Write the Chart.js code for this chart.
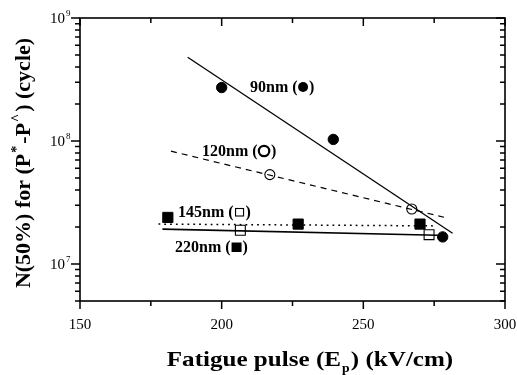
<!DOCTYPE html>
<html>
<head>
<meta charset="utf-8">
<script src="https://cdn.jsdelivr.net/npm/chart.js@4.4.1/dist/chart.umd.min.js"></script>
<style>
html,body{margin:0;padding:0;background:#fff;}
canvas{display:block;}
</style>
</head>
<body>
<canvas id="c" width="517" height="375"></canvas>
<script>
// ---- data ----
const xTickLabels = [150, 200, 250, 300];
const xMinorTicks = [175, 225, 275];
const yTickLabels = [1e7, 1e8, 1e9];

const x90 = [200, 239.4, 278];
const y90 = [2.72e8, 1.03e8, 1.66e7];
const fitX90 = [188, 281.5];
const fitY90 = [4.8e8, 1.78e7];

const x120 = [217, 267.1];
const y120 = [5.33e7, 2.80e7];
const fitX120 = [182.1, 279.7];
const fitY120 = [8.26e7, 2.36e7];

const x145 = [206.6, 273.2];
const y145 = [1.88e7, 1.73e7];
const fitX145 = [177.7, 275.6];
const fitY145 = [2.11e7, 2.04e7];

const x220 = [181.0, 227.0, 270.0];
const y220 = [2.39e7, 2.11e7, 2.11e7];
const fitX220 = [179.1, 276.2];
const fitY220 = [1.92e7, 1.71e7];

const seriesLabels = ['90nm', '120nm', '145nm', '220nm'];

const pts = (xs, ys) => xs.map((v, i) => ({x: v, y: ys[i]}));
const SERIF = '"Liberation Serif", "DejaVu Serif", serif';

const lineDs = (xs, ys, dash, w) => ({
  data: pts(xs, ys), showLine: true, pointRadius: 0, borderColor: '#000',
  borderWidth: w, borderDash: dash, fill: false, order: 2
});

const datasets = [
  lineDs(fitX90, fitY90, [], 1.3),
  lineDs(fitX120, fitY120, [6, 5], 1.2),
  lineDs(fitX145, fitY145, [1.8, 4], 1.5),
  lineDs(fitX220, fitY220, [], 1.6),
  {data: pts(x90, y90), pointStyle: 'circle', pointRadius: 5.2, backgroundColor: '#000', borderColor: '#000', borderWidth: 1, showLine: false, order: 1},
  {data: pts(x120, y120), pointStyle: 'circle', pointRadius: 5, backgroundColor: 'rgba(0,0,0,0)', borderColor: '#000', borderWidth: 1.1, showLine: false, order: 1},
  {data: pts(x145, y145), pointStyle: 'rect', pointRadius: 7, backgroundColor: 'rgba(0,0,0,0)', borderColor: '#000', borderWidth: 1.1, showLine: false, order: 1},
  {data: pts(x220, y220), pointStyle: 'rect', pointRadius: 7.2, backgroundColor: '#000', borderColor: '#000', borderWidth: 1, showLine: false, order: 1}
];

function drawSeriesLabel(ctx, x, y, name, sym) {
  ctx.font = 'bold 16px ' + SERIF;
  ctx.fillStyle = '#000';
  ctx.textAlign = 'left';
  ctx.textBaseline = 'alphabetic';
  const t = name + ' (';
  ctx.fillText(t, x, y);
  let cx = x + ctx.measureText(t).width;
  const cy = y - 5;
  ctx.save();
  ctx.strokeStyle = '#000';
  if (sym === 'fc') { ctx.beginPath(); ctx.arc(cx + 5.5, cy, 5, 0, 2 * Math.PI); ctx.fill(); cx += 11.5; }
  if (sym === 'oc') { ctx.lineWidth = 2.2; ctx.beginPath(); ctx.arc(cx + 6.5, cy, 5.2, 0, 2 * Math.PI); ctx.stroke(); cx += 13.5; }
  if (sym === 'os') { ctx.lineWidth = 1.1; ctx.strokeRect(cx + 2, cy - 3.5, 8, 7.5); cx += 12; }
  if (sym === 'fs') { ctx.fillRect(cx + 1, cy - 4.5, 10, 9.5); cx += 12; }
  ctx.restore();
  ctx.fillText(')', cx, y);
}

const framePlugin = {
  id: 'frame',
  afterDraw(chart) {
    const ctx = chart.ctx;
    const a = chart.chartArea;
    const xs = chart.scales.x, ys = chart.scales.y;
    ctx.save();
    ctx.strokeStyle = '#000';
    ctx.lineWidth = 1.6;
    ctx.strokeRect(a.left, a.top, a.right - a.left, a.bottom - a.top);
    ctx.lineWidth = 1.5;
    ctx.beginPath();
    // x ticks: outward at bottom, inward at top
    xTickLabels.forEach(v => {
      const p = xs.getPixelForValue(v);
      ctx.moveTo(p, a.bottom); ctx.lineTo(p, a.bottom + 8);
      ctx.moveTo(p, a.top); ctx.lineTo(p, a.top + 8);
    });
    xMinorTicks.forEach(v => {
      const p = xs.getPixelForValue(v);
      ctx.moveTo(p, a.bottom); ctx.lineTo(p, a.bottom + 5);
      ctx.moveTo(p, a.top); ctx.lineTo(p, a.top + 5);
    });
    // y ticks: outward at left, inward at right
    for (let e = 6; e <= 9; e++) {
      for (let k = 1; k <= 9; k++) {
        const v = k * Math.pow(10, e);
        if (v < ys.min * 0.999 || v > ys.max * 1.001) continue;
        const p = ys.getPixelForValue(v);
        const len = k === 1 ? 9 : 5;
        ctx.moveTo(a.left, p); ctx.lineTo(a.left - len, p);
        ctx.moveTo(a.right, p); ctx.lineTo(a.right - len, p);
      }
    }
    ctx.stroke();

    // tick labels
    ctx.fillStyle = '#000';
    ctx.font = '15px ' + SERIF;
    ctx.textAlign = 'center';
    ctx.textBaseline = 'alphabetic';
    xTickLabels.forEach(v => {
      ctx.fillText(String(v), xs.getPixelForValue(v), a.bottom + 28);
    });
    yTickLabels.forEach(v => {
      const p = ys.getPixelForValue(v);
      const ex = String(Math.round(Math.log10(v)));
      ctx.font = '15px ' + SERIF;
      ctx.textAlign = 'right';
      ctx.fillText('10', a.left - 15, p + 5);
      ctx.font = '9px ' + SERIF;
      ctx.textAlign = 'left';
      ctx.fillText(ex, a.left - 14, p - 2);
    });

    // x title with subscript (slightly stretched horizontally like the scan)
    const parts = [['Fatigue pulse (E', 0], ['p', 1], [') (kV/cm)', 0]];
    let total = 0;
    const widths = parts.map(([t, s]) => {
      ctx.font = (s ? 'bold 12px ' : 'bold 22px ') + SERIF;
      const w = ctx.measureText(t).width + (s ? 2 : 0);
      total += w; return w;
    });
    const sx = 1.14;
    ctx.save();
    ctx.translate(310, 366);
    ctx.scale(sx, 1);
    let xx = -total / 2;
    ctx.textAlign = 'left';
    parts.forEach(([t, s], i) => {
      ctx.font = (s ? 'bold 12px ' : 'bold 22px ') + SERIF;
      ctx.fillText(t, xx + (s ? 1 : 0), s ? 6 : 0);
      xx += widths[i];
    });
    ctx.restore();

    // y title rotated with superscripts
    ctx.save();
    ctx.translate(30, 163);
    ctx.rotate(-Math.PI / 2);
    const yparts = [['N(50%) for (P', 0], ['*', 1], ['-P', 0], ['^', 1], [') (cycle)', 0]];
    let tot = 0;
    const yw = yparts.map(([t, s]) => {
      ctx.font = (s ? 'bold 14px ' : 'bold 22px ') + SERIF;
      const w = ctx.measureText(t).width + (s ? 3 : 0);
      tot += w; return w;
    });
    let yy = -tot / 2;
    yparts.forEach(([t, s], i) => {
      ctx.font = (s ? 'bold 14px ' : 'bold 22px ') + SERIF;
      ctx.fillText(t, yy + (s ? 1 : 0), s ? -9 : 0);
      yy += yw[i];
    });
    ctx.restore();

    // series labels
    drawSeriesLabel(ctx, 250, 92, seriesLabels[0], 'fc');
    drawSeriesLabel(ctx, 202, 156, seriesLabels[1], 'oc');
    drawSeriesLabel(ctx, 178, 217, seriesLabels[2], 'os');
    drawSeriesLabel(ctx, 175, 252, seriesLabels[3], 'fs');
    ctx.restore();
  }
};

new Chart(document.getElementById('c'), {
  type: 'scatter',
  data: {datasets},
  options: {
    responsive: false,
    animation: false,
    devicePixelRatio: 1,
    layout: {padding: {top: 18, right: 12, left: 0, bottom: 0}},
    plugins: {legend: {display: false}, tooltip: {enabled: false}},
    scales: {
      x: {
        type: 'linear', min: 150, max: 300,
        grid: {display: false, drawTicks: false}, border: {display: false},
        ticks: {display: false},
        afterFit(s) { s.height = 74; }
      },
      y: {
        type: 'logarithmic', min: 5e6, max: 1e9,
        grid: {display: false, drawTicks: false}, border: {display: false},
        ticks: {display: false},
        afterFit(s) { s.width = 80; }
      }
    }
  },
  plugins: [framePlugin]
});
</script>
</body>
</html>
